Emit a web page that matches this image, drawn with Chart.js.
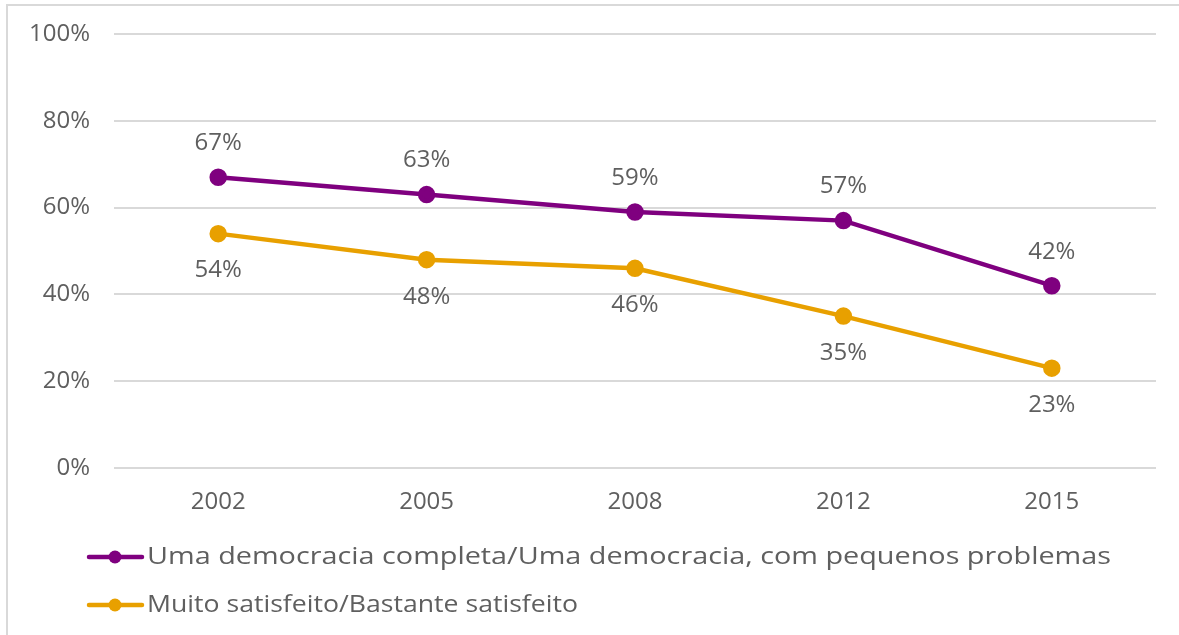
<!DOCTYPE html>
<html><head><meta charset="utf-8">
<script src="https://cdn.jsdelivr.net/npm/chart.js@4/dist/chart.umd.min.js"></script>
<style>
html,body{margin:0;padding:0;background:#fff;overflow:hidden}
#frame{position:absolute;left:6px;top:4px;width:1300px;height:800px;border:2px solid #d9d9d9;box-sizing:border-box}
#wrap{position:absolute;left:0;top:0;width:1179px;height:635px}
</style></head><body>
<div id="frame"></div>
<div id="wrap"><canvas id="c" width="1179" height="635"></canvas></div>
<script>
const categories = ["2002","2005","2008","2012","2015"];
const democracia = [67,63,59,57,42];
const satisfeito = [54,48,46,35,23];
const seriesNames = ["Uma democracia completa/Uma democracia, com pequenos problemas","Muito satisfeito/Bastante satisfeito"];
const yTicks = [0,20,40,60,80,100];

const FONT = "'Open Sans', sans-serif";
const TXT = "#5f5f5f";
const PURPLE = "#7f007f";
const ORANGE = "#e8a000";
const legendTextWidths = [964, 431];

const labelPlugin = {
  id:'labels',
  afterDatasetsDraw(chart){
    const ctx = chart.ctx;
    ctx.save();
    ctx.font = "24px " + FONT;
    ctx.fillStyle = TXT;
    ctx.textAlign = 'center';
    ctx.textBaseline = 'middle';
    chart.data.datasets.forEach((ds,i)=>{
      const meta = chart.getDatasetMeta(i);
      meta.data.forEach((pt,j)=>{
        const off = i===0 ? -34 : 37;
        ctx.fillText(ds.data[j]+'%', pt.x, pt.y+off);
      });
    });
    // legend
    const rows = [557, 605];
    chart.data.datasets.forEach((ds,i)=>{
      const y = rows[i];
      ctx.strokeStyle = ds.borderColor;
      ctx.lineWidth = 4.5;
      ctx.lineCap = 'round';
      ctx.beginPath(); ctx.moveTo(89,y); ctx.lineTo(142,y); ctx.stroke();
      ctx.fillStyle = ds.borderColor;
      ctx.beginPath(); ctx.arc(115,y,6.5,0,Math.PI*2); ctx.fill();
      ctx.fillStyle = TXT;
      ctx.textAlign='left';
      ctx.font = "24px " + FONT;
      const w = ctx.measureText(ds.label).width;
      ctx.save();
      ctx.translate(147,y);
      ctx.scale(legendTextWidths[i]/w,1);
      ctx.fillText(ds.label, 0, 0);
      ctx.restore();
    });
    ctx.restore();
  }
};

new Chart(document.getElementById('c'),{
  type:'line',
  data:{
    labels:categories,
    datasets:[
      {label:seriesNames[0],data:democracia,borderColor:PURPLE,backgroundColor:PURPLE,borderWidth:4.5,pointRadius:6.5,pointHoverRadius:6.5,tension:0},
      {label:seriesNames[1],data:satisfeito,borderColor:ORANGE,backgroundColor:ORANGE,borderWidth:4.5,pointRadius:6.5,pointHoverRadius:6.5,tension:0}
    ]
  },
  options:{
    responsive:false,animation:false,
    layout:{padding:{top:34,right:23,left:0,bottom:0}},
    plugins:{legend:{display:false},tooltip:{enabled:false}},
    scales:{
      x:{
        offset:true,
        grid:{display:false,drawTicks:false},
        border:{display:false},
        ticks:{color:TXT,font:{family:FONT,size:24},padding:20},
        afterFit(s){s.height=167;s.paddingLeft=0;s.paddingRight=0;}
      },
      y:{
        min:0,max:100,
        afterBuildTicks(s){s.ticks=yTicks.map(v=>({value:v}));},
        grid:{color:'#d9d9d9',lineWidth:2,drawTicks:false},
        border:{display:false},
        ticks:{color:TXT,font:{family:FONT,size:24},padding:24,callback:v=>v+'%'},
        afterFit(s){s.width=114;s.paddingTop=0;s.paddingBottom=0;}
      }
    }
  },
  plugins:[labelPlugin]
});
</script>
</body></html>
